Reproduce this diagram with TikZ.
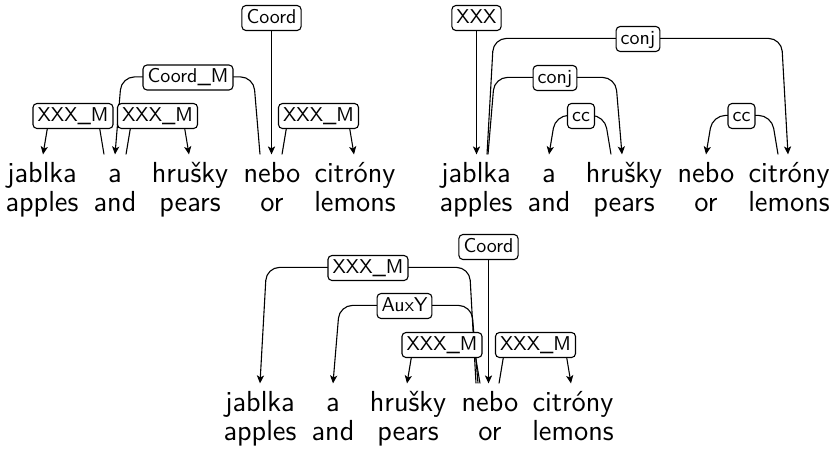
\documentclass[tikz,border=0pt]{standalone}
\usetikzlibrary{calc,arrows.meta}
% #1 from node, #2 foot dx, #3 top dx, #4 to node, #5 top dx, #6 foot dx, #7 height (px above word top)
\newcommand\depedge[7]{%
  \draw[depline] ($(#1.north)+(#2,0)$) -- ($(#1.north)+(#3,-#7)$)
    -- ($(#4.north)+(#5,-#7)$) -- ($(#4.north)+(#6,0)$);}
\tikzset{
  word/.style={font=\fontsize{14.5}{14.5}\selectfont\sffamily, anchor=base,
    inner xsep=0pt, inner ysep=3.5pt, text height=10.1pt},
  gloss/.style={font=\fontsize{14.5}{14.5}\selectfont\sffamily, anchor=base, inner sep=0pt},
  deplabel/.style={draw, line width=0.55pt, rounded corners=2pt, fill=white,
    font=\fontsize{10}{12}\selectfont\sffamily, text height=7.6pt, text depth=2.4pt,
    inner xsep=2.3pt, inner ysep=1.25pt},
  depline/.style={draw, line width=0.55pt, rounded corners=6.5pt,
    -{Stealth[length=4pt,width=3.6pt,inset=1pt]}},
}
\begin{document}
\begin{tikzpicture}[x=0.5pt,y=-0.5pt]
\useasboundingbox (0,0) rectangle (835,451);
% ---------- panel 1 ----------
\node[word] (A1) at (42,182) {jablka};
\node[word] (B1) at (115,182) {a};
\node[word] (C1) at (190,182) {hrušky};
\node[word] (D1) at (272,182) {nebo};
\node[word] (E1) at (355,182) {citróny};
\node[gloss] (a1) at (42,211) {apples};
\node[gloss] (b1) at (115,211) {and};
\node[gloss] (c1) at (190,211) {pears};
\node[gloss] (d1) at (272,211) {or};
\node[gloss] (e1) at (355,211) {lemons};
\depedge{B1}{-11}{-17.5}{A1}{7.5}{1}{39}
\depedge{B1}{11}{17.5}{C1}{-7.5}{-1}{39}
\depedge{D1}{-12}{-18.5}{B1}{6.5}{0}{77.5}
\depedge{D1}{10}{16.5}{E1}{-7.5}{-1}{39}
\node[deplabel] (L1a) at (73,116) {XXX\_M};
\node[deplabel] (L1b) at (157.5,116) {XXX\_M};
\node[deplabel] (L1c) at (188,77.5) {Coord\_M};
\node[deplabel] (L1d) at (318.5,116) {XXX\_M};
\node[deplabel] (R1) at (271.5,18) {Coord};
\draw[depline] (R1.south) -- (R1.south |- D1.north);
% ---------- panel 2 ----------
\node[word] (A2) at (476,182) {jablka};
\node[word] (B2) at (549,182) {a};
\node[word] (C2) at (624,182) {hrušky};
\node[word] (D2) at (706,182) {nebo};
\node[word] (E2) at (789,182) {citróny};
\node[gloss] (a2) at (476,211) {apples};
\node[gloss] (b2) at (549,211) {and};
\node[gloss] (c2) at (624,211) {pears};
\node[gloss] (d2) at (706,211) {or};
\node[gloss] (e2) at (789,211) {lemons};
\depedge{A2}{11}{17.5}{E2}{-7.5}{-1}{116}
\depedge{A2}{12}{18.5}{C2}{-8.5}{-2}{77}
\depedge{C2}{-13}{-19.5}{B2}{6.5}{0}{39}
\depedge{E2}{-11}{-17.5}{D2}{6.5}{0}{39}
\node[deplabel] (L2a) at (638,39) {conj};
\node[deplabel] (L2b) at (555,78) {conj};
\node[deplabel] (L2c) at (581,116) {cc};
\node[deplabel] (L2d) at (741.5,116) {cc};
\node[deplabel] (R2) at (476.5,18) {XXX};
\draw[depline] (R2.south) -- (R2.south |- A2.north);
% ---------- panel 3 ----------
\node[word] (A3) at (260,411) {jablka};
\node[word] (B3) at (333,411) {a};
\node[word] (C3) at (408,411) {hrušky};
\node[word] (D3) at (490,411) {nebo};
\node[word] (E3) at (573,411) {citróny};
\node[gloss] (a3) at (260,440) {apples};
\node[gloss] (b3) at (333,440) {and};
\node[gloss] (c3) at (408,440) {pears};
\node[gloss] (d3) at (490,440) {or};
\node[gloss] (e3) at (573,440) {lemons};
\depedge{D3}{-14}{-20.5}{A3}{6.5}{0}{116}
\depedge{D3}{-12}{-18.5}{B3}{6.5}{0}{78}
\depedge{D3}{-10}{-16.5}{C3}{5.5}{-1}{39}
\depedge{D3}{9}{15.5}{E3}{-8.5}{-2}{39}
\node[deplabel] (L3a) at (368,268) {XXX\_M};
\node[deplabel] (L3b) at (404.5,306) {AuxY};
\node[deplabel] (L3c) at (442,345) {XXX\_M};
\node[deplabel] (L3d) at (535.5,345) {XXX\_M};
\node[deplabel] (R3) at (488.5,247) {Coord};
\draw[depline] (R3.south) -- (R3.south |- D3.north);
\end{tikzpicture}
\end{document}
